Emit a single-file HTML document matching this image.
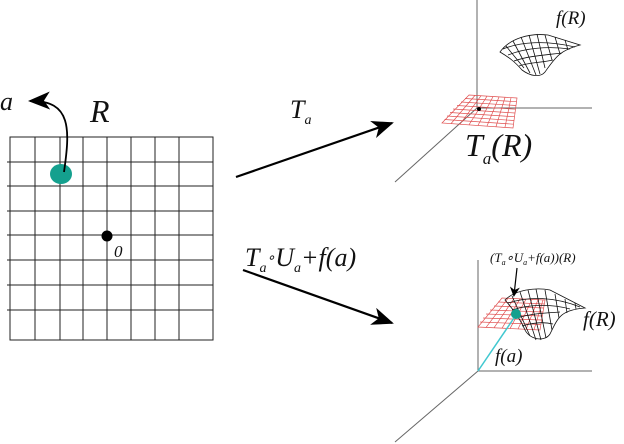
<!DOCTYPE html>
<html><head><meta charset="utf-8"><style>
html,body{margin:0;padding:0;background:#fff;}
svg{display:block;}
text{font-family:"Liberation Serif",serif;font-style:italic;fill:#111;}
</style></head><body>
<svg width="624" height="444" viewBox="0 0 624 444" xmlns="http://www.w3.org/2000/svg">
<defs>
<marker id="ah" markerWidth="10" markerHeight="10" refX="8" refY="5" orient="auto" markerUnits="userSpaceOnUse">
<path d="M0,0 L10,5 L0,10 L3,5 Z" fill="#000"/></marker>
<marker id="ah2" markerWidth="22" markerHeight="18" refX="20" refY="9" orient="auto" markerUnits="userSpaceOnUse">
<path d="M0,0 L22,9 L0,18 L6,9 Z" fill="#000"/></marker>
</defs>
<!-- left grid -->
<g stroke="#222" stroke-width="1">
<rect x="10" y="137" width="203" height="203" fill="none"/>
<line x1="35" y1="137" x2="35" y2="340"/><line x1="60" y1="137" x2="60" y2="340"/>
<line x1="83" y1="137" x2="83" y2="340"/><line x1="107" y1="137" x2="107" y2="340"/>
<line x1="131" y1="137" x2="131" y2="340"/><line x1="155" y1="137" x2="155" y2="340"/>
<line x1="179" y1="137" x2="179" y2="340"/>
<line x1="7" y1="162" x2="213" y2="162"/><line x1="7" y1="186" x2="213" y2="186"/>
<line x1="7" y1="211" x2="213" y2="211"/><line x1="7" y1="235" x2="213" y2="235"/>
<line x1="7" y1="260" x2="213" y2="260"/><line x1="7" y1="285" x2="213" y2="285"/>
<line x1="7" y1="310" x2="213" y2="310"/>
</g>
<ellipse cx="61" cy="174" rx="11" ry="10" fill="#14a08e"/>
<circle cx="107" cy="236" r="5.5" fill="#000"/>
<text x="114" y="257" font-size="17">0</text>
<path d="M64,172 C70,130 72,100 30,101" fill="none" stroke="#000" stroke-width="1.8" marker-end="url(#ah2)"/>
<text x="0" y="110" font-size="26">a</text>
<text x="90" y="122" font-size="32">R</text>
<!-- arrows -->
<line x1="236" y1="177" x2="392" y2="123" stroke="#000" stroke-width="2.2" marker-end="url(#ah2)"/>
<line x1="243" y1="270" x2="392" y2="323" stroke="#000" stroke-width="2.2" marker-end="url(#ah2)"/>
<text x="290" y="118" font-size="26">T<tspan font-size="14" dy="6">a</tspan></text>
<text x="245" y="266" font-size="26">T<tspan font-size="14" dy="6">a</tspan><tspan dy="-10" font-size="14">∘</tspan><tspan dy="4">U</tspan><tspan font-size="14" dy="6">a</tspan><tspan dy="-6">+f(a)</tspan></text>
<!-- top right 3D -->
<g stroke="#666" stroke-width="1">
<line x1="477" y1="0" x2="477" y2="108"/><line x1="477" y1="108" x2="592" y2="108"/>
<line x1="477" y1="108" x2="395" y2="182"/>
</g>
<g stroke="#e05050" stroke-width="0.7" fill="none">
<path d="M469,95 L517,98 L513,128 L442,123 Z"/>
<path d="M475,95.4 L451,123.6 M481,95.8 L460,124.2 M487,96.2 L469,124.8 M493,96.6 L478,125.4 M499,97 L487,126 M505,97.4 L496,126.6 M511,97.8 L505,127.2"/>
<path d="M465,98.5 L516.5,101.7 M461,102 L516,105.5 M457,105.5 L515.5,109.2 M453,109 L515,113 M450,112.5 L514.5,116.7 M447,116 L514,120.5 M444.5,119.5 L513.5,124.2"/>
</g>
<circle cx="479" cy="109" r="2" fill="#000"/>
<g stroke="#111" stroke-width="0.8" fill="none">
<path d="M500,52 C510,38 530,33 548,35 L580,45 C560,50 555,58 545,72 C540,78 530,76 522,70 C515,62 510,58 500,52 Z"/>
<path d="M506,46 L524,68 M513,41 L530,73 M521,37 L536,75 M529,35 L540,74 M537,34 L545,68 M545,35 L552,60 M555,37 L560,54 M565,40 L568,50"/>
<path d="M503,49 C520,42 545,40 575,47 M508,55 C525,48 548,46 570,49 M514,61 C528,56 545,55 562,53 M519,66 C530,62 540,63 553,60"/>
</g>
<text x="556" y="24" font-size="19">f(R)</text>
<text x="465" y="156" font-size="32">T<tspan font-size="17" dy="8">a</tspan><tspan dy="-8">(R)</tspan></text>
<!-- bottom right 3D -->
<g stroke="#666" stroke-width="1">
<line x1="478" y1="260" x2="478" y2="371"/><line x1="478" y1="371" x2="592" y2="371"/>
<line x1="478" y1="371" x2="395" y2="442"/>
</g>
<g stroke="#e05050" stroke-width="0.7" fill="none">
<path d="M502,298 L545,300 L540,330 L478,327 Z"/>
<path d="M508,298.3 L486,327.4 M514,298.6 L494,327.8 M520,298.9 L502,328.2 M526,299.2 L510,328.6 M532,299.5 L518,329 M538,299.8 L526,329.4 M543,300 L534,329.8"/>
<path d="M498,302 L544.5,304 M494,306 L543.8,308 M490,310 L543,312 M486,314 L542.3,316 M483,318 L541.6,320 M480,322 L540.8,324.5"/>
</g>
<g stroke="#111" stroke-width="0.8" fill="none">
<path d="M505,300 C515,290 535,287 550,290 L585,308 C560,310 558,318 550,334 C545,342 530,340 525,330 C520,318 512,308 505,300 Z"/>
<path d="M512,296 L530,336 M520,292 L536,340 M528,290 L541,340 M536,289 L546,338 M545,290 L552,330 M555,294 L559,318 M565,299 L567,313 M575,303 L576,309"/>
<path d="M508,303 C530,296 555,297 580,307 M512,310 C530,304 552,304 570,309 M517,318 C533,313 548,313 560,312 M522,326 C535,322 545,322 553,324"/>
</g>
<circle cx="516" cy="314" r="5" fill="#14a08e"/>
<line x1="478" y1="371" x2="514" y2="318" stroke="#40c8d0" stroke-width="1.5"/>
<line x1="517" y1="268" x2="514" y2="295" stroke="#000" stroke-width="1.2" marker-end="url(#ah)"/>
<text x="490" y="262" font-size="13">(T<tspan font-size="8" dy="3">a</tspan><tspan dy="-3">∘U</tspan><tspan font-size="8" dy="3">a</tspan><tspan dy="-3">+f(a))(R)</tspan></text>
<text x="495" y="362" font-size="19">f(a)</text>
<text x="583" y="326" font-size="21">f(R)</text>
</svg>
</body></html>
